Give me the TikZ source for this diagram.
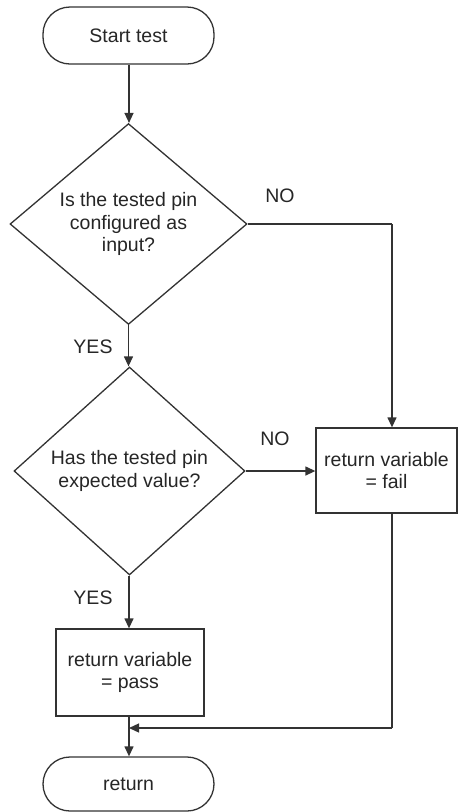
\documentclass[tikz,border=0pt]{standalone}
\usepackage{fontspec}
\setmainfont{Liberation Sans}
\usetikzlibrary{shapes.geometric,arrows.meta}
\begin{document}
\begin{tikzpicture}[x=1pt,y=-1pt,
  line width=1.3pt,
  every node/.style={text=black!85, font=\fontsize{19.5}{22.5}\selectfont, align=center},
  shapebase/.style={draw=black!80, fill=white, inner sep=0pt},
  term/.style={shapebase, rectangle, rounded corners=27pt, minimum width=171pt},
  decision/.style={shapebase, diamond},
  proc/.style={shapebase, rectangle},
  conn/.style={draw=black!80, -{Triangle[length=10pt,width=9pt]}},
  plain/.style={draw=black!80},
  lab/.style={inner sep=0pt}
]
\useasboundingbox (0,0) rectangle (458,812);
\node[term, minimum height=57pt] (start) at (128.5,35.5) {Start test};
\node[decision, minimum width=237pt, minimum height=197pt] (d1) at (128.5,224) {Is the tested pin\\configured as\\input?};
\node[decision, minimum width=231pt, minimum height=208pt] (d2) at (129.5,471) {Has the tested pin\\expected value?};
\node[proc, minimum width=141pt, minimum height=85pt] (fail) at (386.5,470.5) {return variable\\= fail};
\node[proc, minimum width=148pt, minimum height=87pt] (pass) at (130,672.5) {return variable\\= pass};
\node[term, minimum height=54pt] (ret) at (128.5,784) {return};
\coordinate (merge) at (129,728);
\coordinate (corner1) at (392,224);
\coordinate (corner2) at (392,728);

\draw[conn] (start.south -| 129,0) -- (d1.north -| 129,0);
\draw[conn] (d1.south) -- (d2.north -| d1.south);
\draw[plain] (d1.east) -- (corner1);
\draw[conn] (corner1) -- (corner1 |- fail.north);
\draw[conn] (d2.east) -- (fail.west |- d2.east);
\draw[conn] (d2.south -| 129,0) -- (pass.north -| 129,0);
\draw[plain] (corner1 |- fail.south) -- (corner2);
\draw[conn] (corner2) -- (merge);
\draw[conn] (pass.south -| 129,0) -- (ret.north -| 129,0);

\node[lab] (no1) at (280,196) {NO};
\node[lab] (yes1) at (93,347) {YES};
\node[lab] (no2) at (275,439) {NO};
\node[lab] (yes2) at (93,598) {YES};
\end{tikzpicture}
\end{document}
